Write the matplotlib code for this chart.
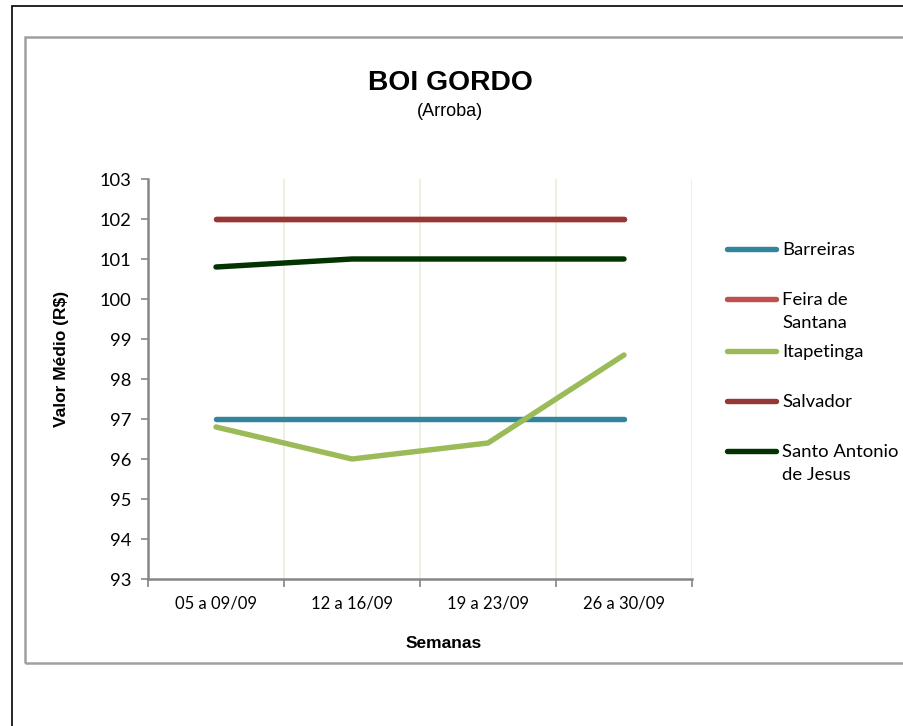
import matplotlib
matplotlib.use("Agg")
import matplotlib.pyplot as plt
from matplotlib.lines import Line2D
from matplotlib.patches import Rectangle

# weekly average price of "boi gordo" (R$ per arroba)
semanas = ["05 a 09/09", "12 a 16/09", "19 a 23/09", "26 a 30/09"]
barreiras = [97, 97, 97, 97]
feira_de_santana = [102, 102, 102, 102]
itapetinga = [96.8, 96.0, 96.4, 98.6]
salvador = [102, 102, 102, 102]
santo_antonio = [100.8, 101, 101, 101]

nomes = ["Barreiras", "Feira de\nSantana", "Itapetinga", "Salvador", "Santo Antonio\nde Jesus"]
cores = ["#31859C", "#C0504D", "#9BBB59", "#953735", "#023300"]
series = [barreiras, feira_de_santana, itapetinga, salvador, santo_antonio]

W, H = 904, 726
fig = plt.figure(figsize=(W / 100, H / 100), dpi=100)

# frames around the chart
fig.add_artist(Rectangle((12 / W, -0.1), 1.2, 1 - 6 / H + 0.1, transform=fig.transFigure,
                         fill=False, edgecolor="black", linewidth=1.2))
fig.add_artist(Rectangle((25 / W, 1 - 663 / H), 1.2, (663 - 37) / H, transform=fig.transFigure,
                         fill=False, edgecolor="#A0A0A0", linewidth=1.8))

ax = fig.add_axes([148 / W, 1 - 579 / H, (692 - 148) / W, (579 - 179) / H])

x = list(range(len(semanas)))
for vals, cor in zip(series, cores):
    ax.plot(x, vals, color=cor, linewidth=3.9, solid_capstyle="round", solid_joinstyle="round")

ax.set_xlim(-0.5, len(semanas) - 0.5)
ax.set_ylim(93, 103)
ax.set_yticks(range(93, 104))
ax.set_xticks([i - 0.5 for i in range(len(semanas) + 1)])
ax.set_xticklabels([])
ax.set_xticks(x, minor=True)
ax.set_xticklabels(semanas, minor=True)
ax.tick_params(axis="x", which="minor", length=0, pad=12, labelsize=12)
ax.tick_params(axis="x", which="major", length=6, width=1.2, color="#868686", direction="out")
ax.tick_params(axis="y", length=5, width=1.2, color="#868686", pad=7, labelsize=13.2)
for lab in ax.get_xticklabels(minor=True) + ax.get_yticklabels():
    lab.set_fontfamily("Lato")

ax.grid(axis="x", which="major", color="#EDEEDC", linewidth=1.2)
ax.set_axisbelow(True)
for s in ["top", "right"]:
    ax.spines[s].set_visible(False)
for s in ["left", "bottom"]:
    ax.spines[s].set_color("#868686")
    ax.spines[s].set_linewidth(1.8)

fig.text(450 / W, 1 - 83 / H, "BOI GORDO", ha="center", va="center",
         fontsize=20.3, fontweight="bold", family="Liberation Sans")
fig.text(450 / W, 1 - 112 / H, "(Arroba)", ha="center", va="center",
         fontsize=13, family="Liberation Sans")
fig.text(444 / W, 1 - 643 / H, "Semanas", ha="center", va="center",
         fontsize=12.5, fontweight="bold", family="Liberation Sans")
fig.text(62 / W, 1 - 359 / H, "Valor Médio (R$)", ha="center", va="center", rotation=90,
         fontsize=12.5, fontweight="bold", family="Liberation Sans")

# legend, drawn by hand so the line sits next to the first text line
leg_y = [249, 299, 351, 401, 451]
for nome, cor, yy in zip(nomes, cores, leg_y):
    fig.add_artist(Line2D([727 / W, 776 / W], [1 - yy / H, 1 - yy / H], transform=fig.transFigure,
                          color=cor, linewidth=3.9, solid_capstyle="round"))
    fig.text(782 / W, 1 - (yy - 7) / H, nome, ha="left", va="top", fontsize=13.3,
             family="Lato", linespacing=1.5)

fig.savefig("out.png", dpi=100)
